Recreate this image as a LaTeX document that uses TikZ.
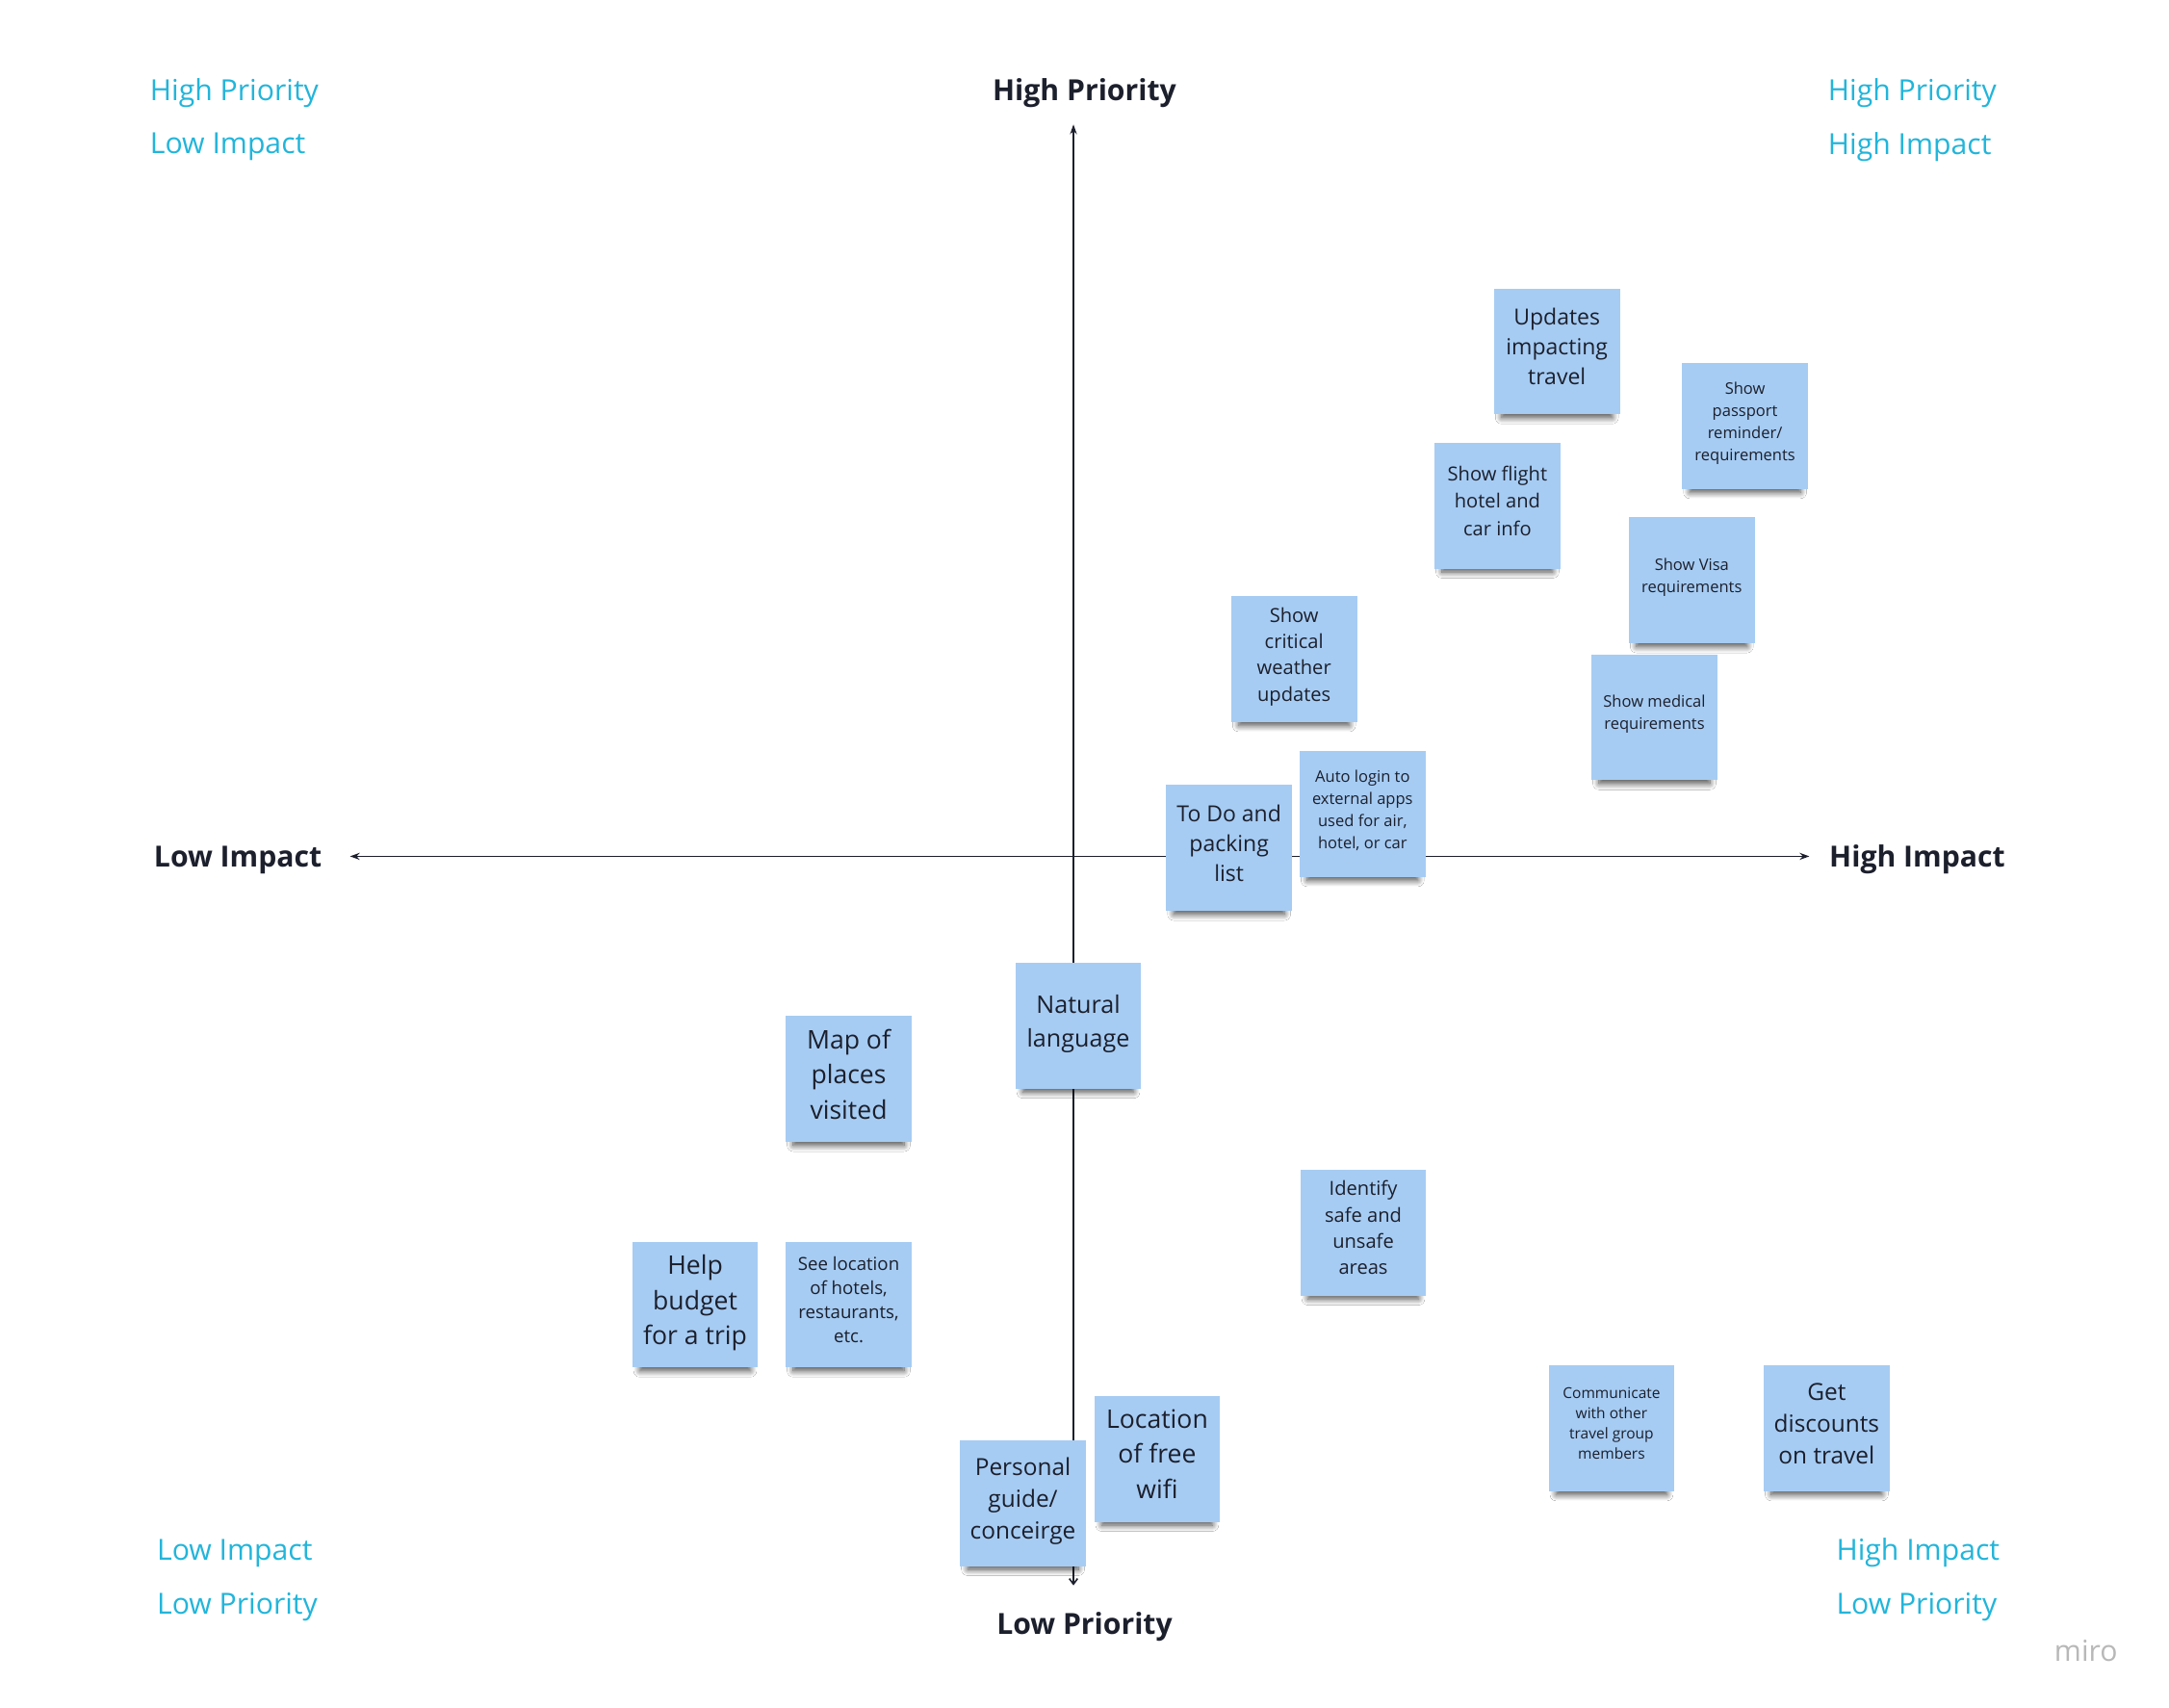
\documentclass[tikz,border=0pt]{standalone}
\usepackage{fontspec}
\setmainfont{Open Sans}
\usepackage{tikz}
\usetikzlibrary{arrows.meta}
\usetikzlibrary{shadows.blur}
\definecolor{noteblue}{HTML}{A6CCF3}
\definecolor{ink}{HTML}{1C1F2C}
\definecolor{cornercyan}{HTML}{22B5DA}
\definecolor{mirogray}{HTML}{B8B8B8}
\newcommand\fs[2]{\fontsize{#1}{#2}\selectfont}

\begin{document}
\begin{tikzpicture}[x = 1pt, y = -1pt,
  note/.style = {fill = noteblue, minimum width = 91pt, minimum height = 91pt, inner sep = 0pt,
    align = center, text = ink, text depth = 7pt,
    blur shadow = {shadow xshift = 0pt, shadow yshift = -9pt, shadow scale = 0.88, shadow opacity = 70,
      shadow blur radius = 5pt, shadow blur steps = 10}},
  axis/.style = {draw = ink, line width = 1.1pt},
  axlabel/.style = {font = \fs{21}{25}\bfseries, text = ink},
  corner/.style = {font = \fs{21}{25}, text = cornercyan, anchor = west}
]
\fill[white] (0,0) rectangle (1568,1234.6);
\useasboundingbox (0,0) rectangle (1568,1234.6);

% axes
\coordinate (ptop) at (776,90);
\coordinate (pbot) at (776,1146);
\coordinate (ileft) at (253,619);
\coordinate (iright) at (1308,619);
\draw[axis, {Straight Barb[length=4pt,width=6pt]}-{Stealth[length=7pt,width=5pt]}] (pbot) -- (ptop);
\draw[axis, {Stealth[length=7pt,width=5pt]}-{Stealth[length=7pt,width=5pt]}] (ileft) -- (iright);

\node[axlabel] (hp) at (784,67) {High Priority};
\node[axlabel] (lp) at (784,1176) {Low Priority};
\node[axlabel] (li) at (172,622) {Low Impact};
\node[axlabel] (hi) at (1386,621) {High Impact};

% corners
\node[corner] (tl1) at (105,67) {High Priority};
\node[corner] (tl2) at (105,106) {Low Impact};
\node[corner] (tr1) at (1318,67) {High Priority};
\node[corner] (tr2) at (1318,106) {High Impact};
\node[corner] (bl1) at (110,1122.5) {Low Impact};
\node[corner] (bl2) at (110,1161.5) {Low Priority};
\node[corner] (br1) at (1324,1122.5) {High Impact};
\node[corner] (br2) at (1324,1161.5) {Low Priority};

% sticky notes
\node[note, font = \fs{16}{21.5}] (updates) at (1125.5,254) {Updates\\impacting\\travel};
\node[note, font = \fs{11.5}{16}] (passport) at (1261.5,308) {Show\\passport\\reminder/\\requirements};
\node[note, font = \fs{14}{20}] (flight) at (1082.5,365.5) {Show flight\\hotel and\\car info};
\node[note, font = \fs{11.5}{16}] (visa) at (1223,419.5) {Show Visa\\requirements};
\node[note, font = \fs{14}{19}] (weather) at (935.5,476.5) {Show\\critical\\weather\\updates};
\node[note, font = \fs{11.5}{16}] (medical) at (1196,518.5) {Show medical\\requirements};
\node[note, font = \fs{11.5}{16}] (login) at (985,588.5) {Auto login to\\external apps\\used for air,\\hotel, or car};
\node[note, font = \fs{16}{21.5}] (todo) at (888.5,613) {To Do and\\packing\\list};
\node[note, font = \fs{17.5}{24}] (natural) at (779.5,741.5) {Natural\\language};
\node[note, font = \fs{18.5}{25.5}] (map) at (613.5,780) {Map of\\places\\visited};
\node[note, font = \fs{14}{19}] (safe) at (985.5,891) {Identify\\safe and\\unsafe\\areas};
\node[note, font = \fs{18.5}{25.5}] (budget) at (502.5,943) {Help\\budget\\for a trip};
\node[note, font = \fs{13}{17.6}] (hotels) at (613.5,943) {See location\\of hotels,\\restaurants,\\etc.};
\node[note, font = \fs{10.8}{14.7}] (group) at (1165,1032.5) {Communicate\\with other\\travel group\\members};
\node[note, font = \fs{17}{23}] (discounts) at (1320.5,1032.5) {Get\\discounts\\on travel};
\node[note, font = \fs{18.5}{25.5}] (wifi) at (836.5,1054.5) {Location\\of free\\wifi};
\node[note, font = \fs{17}{23}] (guide) at (739.5,1086.5) {Personal\\guide/\\conceirge};

\node[font = \fs{21}{25}, text = mirogray] (miro) at (1508,1193) {miro};
\end{tikzpicture}
\end{document}
